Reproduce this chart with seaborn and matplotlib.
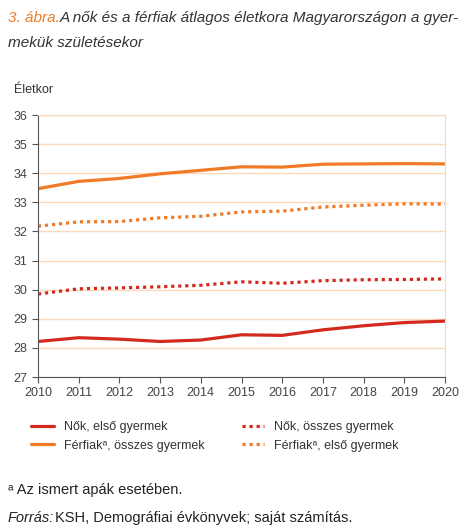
import matplotlib
matplotlib.use("Agg")
import matplotlib.pyplot as plt
import seaborn as sns
import pandas as pd

years = list(range(2010, 2021))
nok_elso = [28.22, 28.35, 28.30, 28.22, 28.27, 28.45, 28.43, 28.62, 28.76, 28.87, 28.92]
nok_osszes = [29.85, 30.03, 30.06, 30.10, 30.15, 30.27, 30.22, 30.31, 30.34, 30.35, 30.37]
ferfi_osszes = [33.47, 33.72, 33.82, 33.98, 34.10, 34.22, 34.21, 34.31, 34.32, 34.33, 34.32]
ferfi_elso = [32.18, 32.33, 32.34, 32.47, 32.52, 32.67, 32.70, 32.84, 32.90, 32.95, 32.94]

sns.set_style("white")
plt.rcParams['font.family'] = ['Liberation Sans', 'DejaVu Sans']

fig = plt.figure(figsize=(4.74, 5.3), dpi=100)
ax = fig.add_axes([38/474, 1-377/530, (445-38)/474, (377-115)/530])

red = "#d42a1e"
orange = "#f07a28"
series = [
    ("Nők, első gyermek", nok_elso, red, "-"),
    ("Nők, összes gyermek", nok_osszes, red, (0, (1, 1.2))),
    ("Férfiakᵃ, összes gyermek", ferfi_osszes, orange, "-"),
    ("Férfiakᵃ, első gyermek", ferfi_elso, orange, (0, (1, 1.2))),
]
for name, vals, col, ls in series:
    df = pd.DataFrame({"year": years, "v": vals})
    sns.lineplot(data=df, x="year", y="v", ax=ax, color=col, linestyle=ls, lw=2.3, label=name)

ax.set_xlim(2010, 2020)
ax.set_ylim(27, 36)
ax.set_xticks(years)
ax.set_yticks(range(27, 37))
ax.set_xlabel(""); ax.set_ylabel("")
ax.grid(axis="y", color="#fbd9bb", lw=1)
for s in ["top", "right"]:
    ax.spines[s].set_color("#fbd9bb")
for s in ["left", "bottom"]:
    ax.spines[s].set_color("#555555")
ax.tick_params(axis="both", length=4, color="#555555", labelsize=9, labelcolor="#444444", direction="out")
ax.tick_params(axis="x", bottom=True)
ax.tick_params(axis="y", left=True)
ax.legend_.remove()

h, l = ax.get_legend_handles_labels()
order = [0, 2, 1, 3]
fig.legend([h[i] for i in order], [l[i] for i in order], ncol=2, loc="upper left",
           bbox_to_anchor=(20/474, 1-410/530), frameon=False, fontsize=9,
           handlelength=1.8, columnspacing=3.0, labelcolor="#333333")

fig.text(8/474, 1-18/530, "3. ábra.", color=orange, fontsize=11, style="italic", va="center")
fig.text(60/474, 1-18/530, "A nők és a férfiak átlagos életkora Magyarországon a gyer-",
         color="#333333", fontsize=11, style="italic", va="center")
fig.text(8/474, 1-43/530, "mekük születésekor", color="#333333", fontsize=11, style="italic", va="center")
fig.text(14/474, 1-90/530, "Életkor", color="#333333", fontsize=9, va="center")
fig.text(8/474, 1-490/530, "ᵃ Az ismert apák esetében.", color="#222222", fontsize=10.5, va="center")
fig.text(8/474, 1-518/530, "Forrás:", color="#222222", fontsize=10.5, style="italic", va="center")
fig.text(55/474, 1-518/530, "KSH, Demográfiai évkönyvek; saját számítás.", color="#222222", fontsize=10.5, va="center")

fig.savefig("out.png", dpi=100)
